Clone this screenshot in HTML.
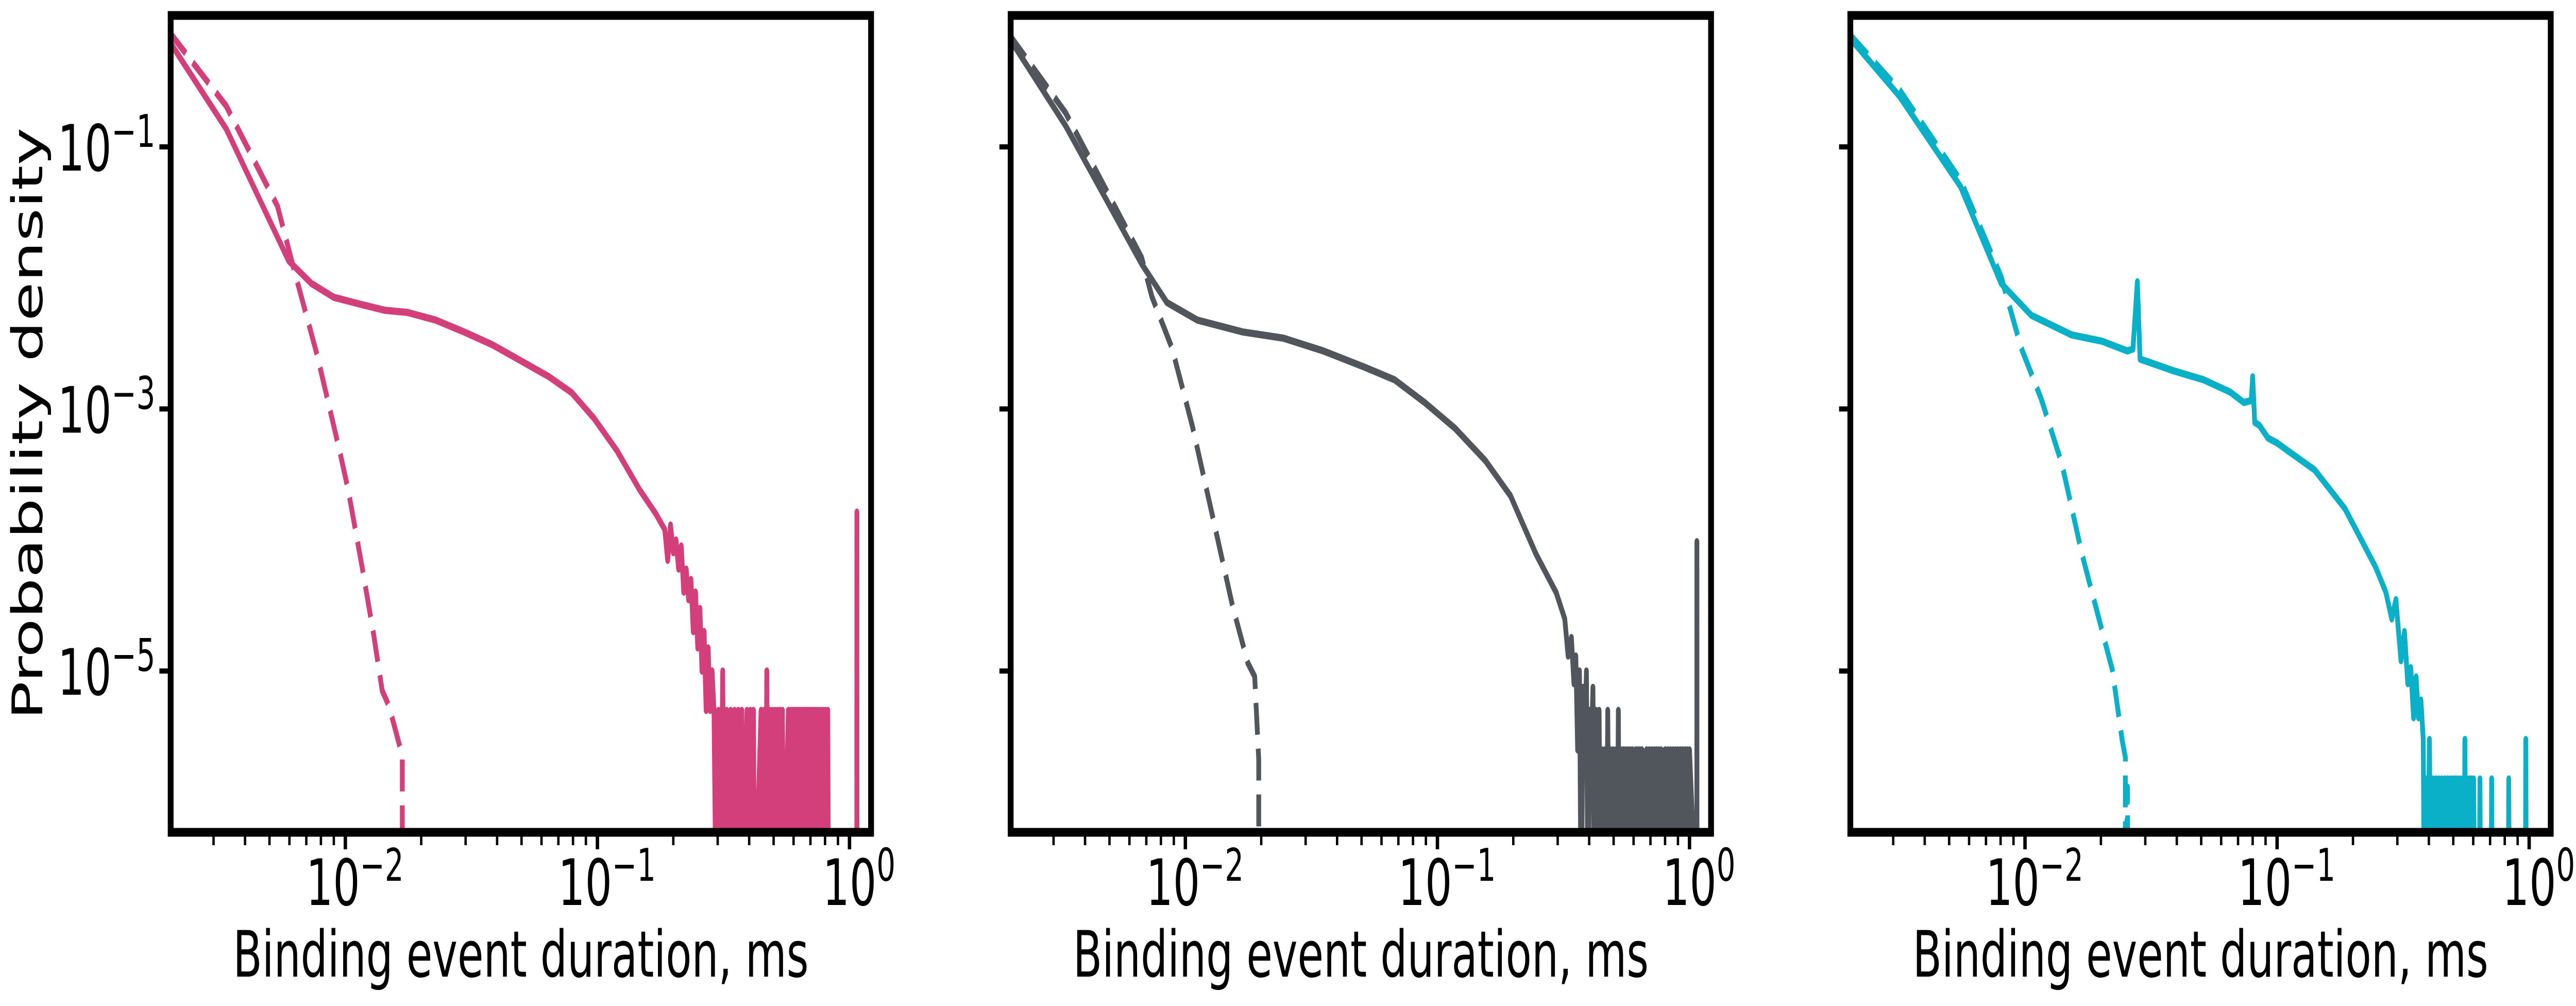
<!DOCTYPE html>
<html><head><meta charset="utf-8"><style>
html,body{margin:0;padding:0;background:#fff;width:100%;height:100%;overflow:hidden}
svg{display:block;width:100vw;height:100vh}
text{font-family:"DejaVu Sans","Liberation Sans",sans-serif;fill:#000}
</style></head><body>
<svg id="fig" viewBox="0 0 7547 1952" preserveAspectRatio="none" xmlns="http://www.w3.org/2000/svg">
<rect x="0" y="0" width="7547" height="1952" fill="#fff"/>
<defs id="defs"></defs>
<g id="root"></g>
</svg>
<script>
// ---- Panel 1 (pink) ----
const p1SolidX = [0.00201,0.00337,0.00596,0.00733,0.0090,0.01164,0.01436,0.0176,0.0228,0.0296,0.0383,0.0497,0.0643,0.0791,0.0971,0.1197,0.147,0.17,0.185,0.19,0.195,0.2,0.205,0.21,0.215,0.22,0.225,0.23,0.235,0.24,0.245,0.25,0.255,0.26,0.265,0.27,0.275,0.28,0.285];
const p1SolidY = [0.634,0.137,0.0135,0.00908,0.00711,0.00625,0.00566,0.00546,0.00477,0.00387,0.00309,0.00233,0.00176,0.00133,0.000845,0.000478,0.000242,0.00016,1.2e-4,7e-5,1.3e-4,8e-5,1.0e-4,6e-5,9e-5,4e-5,6e-5,3.5e-5,5e-5,2e-5,4e-5,1.5e-5,3e-5,1.0e-5,2e-5,5e-6,1.5e-5,5e-6,1e-5];
const p1TailX = [0.290,0.296,0.302,0.308,0.314,0.320,0.326,0.332,0.338,0.344,0.350,0.356,0.362,0.368,0.374,0.380,0.392,0.398,0.404,0.410,0.416,0.420,0.446,0.452,0.458,0.464,0.470,0.476,0.482,0.488,0.494,0.500,0.506,0.512,0.518,0.524,0.530,0.536,0.542,0.548,0.572,0.578,0.584,0.590,0.596,0.602,0.608,0.614,0.620,0.626,0.632,0.638,0.644,0.650,0.656,0.662,0.668,0.674,0.680,0.686,0.692,0.698,0.704,0.710,0.716,0.722,0.728,0.734,0.740,0.748,0.756,0.764,0.772,0.780,0.788,0.796,0.804,0.812,0.820,0.826,1.069,1.07,1.071];
const p1TailY = [5e-6,0,5e-6,0,1e-5,0,5e-6,0,5e-6,0,5e-6,0,5e-6,0,5e-6,0,5e-6,0,5e-6,0,5e-6,0,5e-6,0,5e-6,0,1e-5,0,5e-6,0,5e-6,0,5e-6,0,5e-6,0,5e-6,0,5e-6,0,5e-6,0,5e-6,0,5e-6,0,5e-6,0,5e-6,0,5e-6,0,5e-6,0,5e-6,0,5e-6,0,5e-6,0,5e-6,0,5e-6,0,5e-6,0,5e-6,0,5e-6,0,5e-6,0,5e-6,0,5e-6,0,5e-6,0,5e-6,0,0,1.63e-4,0];
const p1DashX = [0.00201,0.00337,0.00538,0.00627,0.00772,0.00949,0.01026,0.01165,0.01294,0.01400,0.01490,0.01682,0.01682];
const p1DashY = [0.746,0.205,0.0353,0.01138,0.0026,0.000478,0.000242,6.23e-5,1.92e-5,7.09e-6,5.4e-6,2.26e-6,0];

// ---- Panel 2 (gray) ----
const p2SolidX = [0.00201,0.00335,0.00671,0.00845,0.01115,0.01689,0.02447,0.0353,0.0512,0.0676,0.0890,0.1174,0.155,0.195,0.246,0.296,0.320,0.330,0.340,0.348,0.354,0.360,0.366,0.372,0.378,0.384,0.390,0.396,0.402,0.408,0.414,0.420,0.426,0.432,0.438,0.444,0.450];
const p2SolidY = [0.670,0.145,0.0128,0.00649,0.00477,0.00387,0.00347,0.00277,0.00209,0.00167,0.00112,0.000712,0.000403,0.000217,7.81e-5,3.96e-5,2.5e-5,1.3e-5,1.8e-5,8e-6,1.3e-5,2.5e-6,1e-5,0,7.5e-6,2.5e-6,1e-5,0,5e-6,2.5e-6,7.5e-6,0,5e-6,0,5e-6,0,2.5e-6];
const p2TailX = [0.456,0.462,0.468,0.474,0.480,0.486,0.492,0.498,0.504,0.510,0.516,0.522,0.528,0.534,0.540,0.546,0.552,0.558,0.564,0.570,0.576,0.582,0.588,0.594,0.600,0.612,0.618,0.624,0.630,0.636,0.642,0.648,0.654,0.660,0.676,0.684,0.692,0.700,0.708,0.716,0.724,0.732,0.740,0.748,0.756,0.764,0.772,0.780,0.800,0.810,0.820,0.830,0.840,0.850,0.860,0.870,0.880,0.890,0.900,0.910,0.920,0.930,0.940,0.950,0.960,0.970,0.980,0.990,1.000,1.069,1.07,1.071];
const p2TailY = [0,2.5e-6,0,5e-6,0,2.5e-6,0,2.5e-6,0,2.5e-6,0,5e-6,0,2.5e-6,0,2.5e-6,0,2.5e-6,0,2.5e-6,0,2.5e-6,0,2.5e-6,0,2.5e-6,0,2.5e-6,0,2.5e-6,0,2.5e-6,0,0,2.5e-6,0,2.5e-6,0,2.5e-6,0,2.5e-6,0,2.5e-6,0,2.5e-6,0,2.5e-6,0,2.5e-6,0,2.5e-6,0,2.5e-6,0,2.5e-6,0,2.5e-6,0,2.5e-6,0,2.5e-6,0,2.5e-6,0,2.5e-6,0,2.5e-6,0,2.5e-6,0,9.7e-5,0];
const p2DashX = [0.00201,0.00335,0.00671,0.00736,0.00885,0.01064,0.0128,0.01538,0.0177,0.01884,0.01955,0.01955];
const p2DashY = [0.71,0.182,0.01426,0.00723,0.00292,0.000752,1.54e-4,3.16e-5,1.15e-5,9.1e-6,2.1e-6,0];

// ---- Panel 3 (cyan) ----
const p3SolidX = [0.00203,0.00318,0.00555,0.00804,0.0106,0.01533,0.0202,0.02548,0.0268,0.0279,0.0286,0.0305,0.0387,0.0511,0.0650,0.0738,0.0790,0.0800,0.0815,0.0850,0.0920,0.1000,0.107,0.141,0.186,0.246,0.270,0.285,0.296,0.310,0.320,0.330,0.339,0.348,0.356,0.364,0.372,0.380];
const p3SolidY = [0.670,0.243,0.0498,0.00908,0.00518,0.00367,0.00329,0.00277,0.00287,0.00933,0.00240,0.00230,0.00196,0.00167,0.00135,0.00112,0.00116,0.00176,0.00079,0.00075,0.00060,0.00055,0.00050,0.000342,0.000173,6.2e-5,4e-5,2.5e-5,3.5e-5,1.2e-5,2e-5,8e-6,1.06e-5,4.4e-6,9e-6,4.4e-6,6e-6,3e-6];
const p3TailX = [0.384,0.390,0.396,0.402,0.408,0.414,0.420,0.426,0.432,0.438,0.444,0.450,0.456,0.462,0.468,0.474,0.480,0.486,0.492,0.498,0.504,0.510,0.516,0.522,0.528,0.534,0.540,0.546,0.552,0.556,0.560,0.566,0.572,0.578,0.584,0.590,0.596,0.602,0.608,0.614,0.634,0.638,0.642,0.706,0.710,0.714,0.826,0.830,0.834,0.966,0.970,0.974];
const p3TailY = [0,1.5e-6,0,3e-6,0,1.5e-6,0,1.5e-6,0,1.5e-6,0,1.5e-6,0,1.5e-6,0,1.5e-6,0,1.5e-6,0,1.5e-6,0,1.5e-6,0,1.5e-6,0,1.5e-6,0,1.5e-6,0,3e-6,0,1.5e-6,0,1.5e-6,0,1.5e-6,0,1.5e-6,0,0,0,1.5e-6,0,0,1.5e-6,0,0,1.5e-6,0,0,3e-6,0];
const p3DashX = [0.00203,0.00318,0.00555,0.00804,0.00966,0.01162,0.0140,0.01683,0.0222,0.0243,0.0250,0.0250,0.0255,0.0256];
const p3DashY = [0.71,0.271,0.0555,0.0102,0.00292,0.00118,0.000381,7.8e-5,1.02e-5,2.94e-6,2.2e-6,0,1.3e-6,0];

// ---- Axis tick data ----
const xMajorExp = [-2,-1,0];
const xMajorLabels = ["\u22122","\u22121","0"];
const yMajorExp = [-1,-3,-5];
const yMajorLabels = ["\u22121","\u22123","\u22125"];

const NS = "http://www.w3.org/2000/svg";
const root = document.getElementById('root');
const defs = document.getElementById('defs');
const panelLeft = [500, 2961, 5421];
const plotW = 2052, plotTop = 30, plotBottom = 1615;
const decX = 738.5, xLogMin = -2.693;
const decY = 254.25;
function xs(p, v){ return panelLeft[p] + (Math.log10(v) - xLogMin) * decX; }
function ys(v){ return v <= 0 ? 1800 : 285 - (Math.log10(v) + 1) * decY; }
function mk(tag, attrs, parent){
  const e = document.createElementNS(NS, tag);
  for (const k in attrs) e.setAttribute(k, attrs[k]);
  (parent || root).appendChild(e);
  return e;
}
function path(p, X, Y){
  let d = '';
  for (let i = 0; i < X.length; i++) d += (i ? 'L' : 'M') + xs(p, X[i]).toFixed(1) + ',' + ys(Y[i]).toFixed(1);
  return d;
}
const colors = ['#d33f7a', '#51565d', '#0aafc8'];
const series = [
  [p1SolidX.concat(p1TailX), p1SolidY.concat(p1TailY), p1DashX, p1DashY],
  [p2SolidX.concat(p2TailX), p2SolidY.concat(p2TailY), p2DashX, p2DashY],
  [p3SolidX.concat(p3TailX), p3SolidY.concat(p3TailY), p3DashX, p3DashY]
];
for (let p = 0; p < 3; p++) {
  const L = panelLeft[p];
  const cp = mk('clipPath', {id: 'clip' + p}, defs);
  mk('rect', {x: L, y: plotTop, width: plotW, height: plotBottom - plotTop}, cp);
  const g = mk('g', {'clip-path': 'url(#clip' + p + ')'});
  
  
  const dash = mk('path', {d: path(p, series[p][2], series[p][3]), fill: 'none', stroke: colors[p], 'stroke-width': 14, 'stroke-dasharray': '62 27', 'stroke-linejoin': 'round'}, g);
  
  
  const solid = mk('path', {d: path(p, series[p][0], series[p][1]), fill: 'none', stroke: colors[p], 'stroke-width': 14, 'stroke-linejoin': 'round', 'stroke-linecap': 'round'}, g);
  
  

  const tg = mk('g', {});
  
  
  for (let e = -3; e <= 0; e++) {
    for (let m = 1; m <= 9; m++) {
      const v = m * Math.pow(10, e);
      const x = xs(p, v);
      if (x < L + 2 || x > L + plotW - 2) continue;
      const major = (m === 1);
      mk('line', {x1: x, x2: x, y1: plotBottom, y2: plotBottom + (major ? 33 : 25), stroke: '#000', 'stroke-width': major ? 10 : 7}, tg);
    }
  }
  for (let i = 0; i < xMajorExp.length; i++) {
    const x = xs(p, Math.pow(10, xMajorExp[i]));
    const t = mk('text', {x: x + 28, y: 1756, 'font-size': 124, 'text-anchor': 'middle'}, tg);
    
    
    t.appendChild(document.createTextNode('10'));
    const s = mk('tspan', {dy: -47, 'font-size': 87}, t);
    s.textContent = xMajorLabels[i];
  }
  const yg = mk('g', {});
  
  
  for (let i = 0; i < yMajorExp.length; i++) {
    const y = ys(Math.pow(10, yMajorExp[i]));
    mk('line', {x1: L - 33, x2: L, y1: y, y2: y, stroke: '#000', 'stroke-width': 10}, yg);
    if (p === 0) {
      const t = mk('text', {x: 455, y: y + 46, 'font-size': 124, 'text-anchor': 'end'}, yg);
      
      
      t.appendChild(document.createTextNode('10'));
      const s = mk('tspan', {dy: -46, 'font-size': 87}, t);
      s.textContent = yMajorLabels[i];
    }
  }
  const fr = mk('rect', {x: L, y: plotTop, width: plotW, height: plotBottom - plotTop, fill: 'none', stroke: '#000', 'stroke-width': 17});
  
  
  const xl = mk('text', {x: L + plotW / 2, y: 1895, 'font-size': 124, 'text-anchor': 'middle'});
  
  
  xl.textContent = 'Binding event duration, ms';
}
const yl = mk('text', {x: 0, y: 0, 'font-size': 124, 'text-anchor': 'middle', transform: 'translate(124,822) rotate(-90)'});


yl.textContent = 'Probability density';
</script>
</body></html>
